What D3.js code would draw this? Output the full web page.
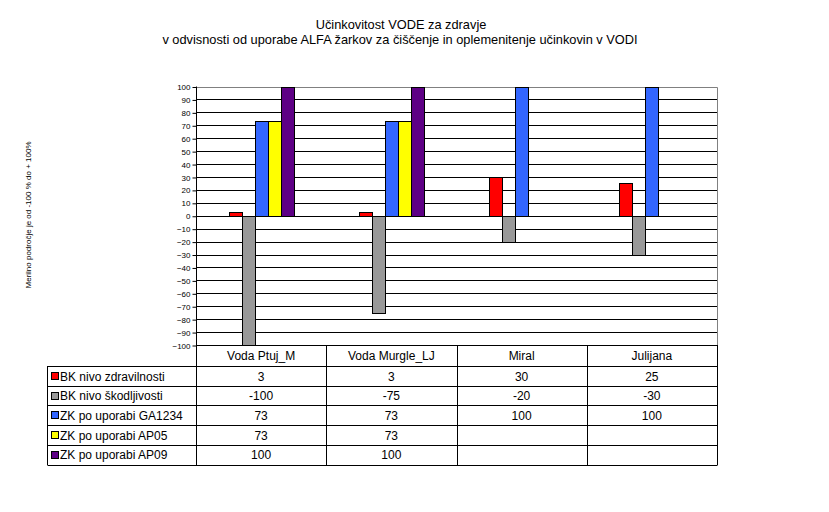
<!DOCTYPE html>
<html>
<head>
<meta charset="utf-8">
<script src="https://cdn.jsdelivr.net/npm/d3@7/dist/d3.min.js"></script>
<style>
    body { margin: 0; background: #fff; }
    text { font-family: "Liberation Sans", Arial, sans-serif; fill: #000; }
</style>
</head>
<body>
<div id="chart"></div>
<script>
'use strict';

// Data
const categories = ['Voda Ptuj_M', 'Voda Murgle_LJ', 'Miral', 'Julijana'];
const seriesNames = ['BK nivo zdravilnosti', 'BK nivo škodljivosti', 'ZK po uporabi GA1234', 'ZK po uporabi AP05', 'ZK po uporabi AP09'];
const seriesColors = ['#ff0000', '#999999', '#3366ff', '#ffff00', '#5e0085'];
const bkZdravilnost = [3, 3, 30, 25];
const bkSkodljivost = [-100, -75, -20, -30];
const zkGA1234 = [73, 73, 100, 100];
const zkAP05 = [73, 73, null, null];
const zkAP09 = [100, 100, null, null];
const yTicks = d3.range(-100, 101, 10);

const seriesValues = [bkZdravilnost, bkSkodljivost, zkGA1234, zkAP05, zkAP09];

// Config svg
const w = 829, h = 512;
const svg = d3.select('#chart').append('svg')
    .attr('width', w)
    .attr('height', h);

// Plot area
const plot = {left: 196, right: 717, top: 86.5, bottom: 345};

// Scales
const y = d3.scaleLinear().domain([-100, 100]).range([plot.bottom, plot.top]);
const x = d3.scaleBand().domain(categories).range([plot.left, plot.right]);
const xs = d3.scaleBand().domain(d3.range(seriesNames.length))
    .range([x.bandwidth() * 0.25, x.bandwidth() * 0.75]);

// Title
svg.append('text').attr('x', 401).attr('y', 29).attr('text-anchor', 'middle')
    .style('font-size', '12.8px').text('Učinkovitost VODE za zdravje');
svg.append('text').attr('x', 400).attr('y', 44).attr('text-anchor', 'middle')
    .style('font-size', '12.8px')
    .text('v odvisnosti od uporabe ALFA žarkov za čiščenje in oplemenitenje učinkovin v VODI');

// Y title
svg.append('text')
    .attr('transform', 'translate(31,215) rotate(-90)')
    .attr('text-anchor', 'middle')
    .style('font-size', '8px')
    .text('Merilno področje je od -100 % do + 100%');

// Grid lines
svg.append('g').selectAll('line')
    .data(yTicks.filter(d => d < 100))
    .join('line')
    .attr('x1', plot.left).attr('x2', plot.right)
    .attr('y1', d => Math.round(y(d)) + 0.5).attr('y2', d => Math.round(y(d)) + 0.5)
    .attr('stroke', '#000');

// Top & right border (gray)
svg.append('path')
    .attr('d', `M${plot.left},${Math.round(plot.top) + 0.5}H${plot.right + 0.5}V${plot.bottom}`)
    .attr('fill', 'none').attr('stroke', '#808080');

// Bars
const barsG = svg.append('g');
categories.forEach((c, ci) => {
    seriesValues.forEach((vals, si) => {
        const v = vals[ci];
        if (v === null) return;
        const x0 = Math.round(x(c) + xs(si)) + 0.5;
        const x1 = Math.round(x(c) + xs(si) + xs.bandwidth()) + 0.5;
        const y0 = Math.round(y(Math.max(0, v))) + 0.5;
        const y1 = Math.round(y(Math.min(0, v))) + 0.5;
        barsG.append('rect')
            .attr('x', x0).attr('y', y0)
            .attr('width', x1 - x0).attr('height', y1 - y0)
            .attr('fill', seriesColors[si])
            .attr('stroke', '#000');
    });
});

// Y axis
const yAxis = d3.axisLeft(y).tickValues(yTicks).tickSize(4).tickPadding(2);
const axisG = svg.append('g')
    .attr('transform', `translate(${plot.left + 0.5},0.5)`)
    .call(yAxis);
axisG.select('.domain').remove();
axisG.selectAll('.tick line').attr('stroke', '#000');
axisG.selectAll('.tick text')
    .style('font-size', '8px')
    .style('font-family', '"Liberation Sans", Arial, sans-serif');
svg.append('line')
    .attr('x1', plot.left + 0.5).attr('x2', plot.left + 0.5)
    .attr('y1', plot.top).attr('y2', plot.bottom)
    .attr('stroke', '#000');

// Data table
const table = {left: 47.5, headTop: 345, headBottom: 366, rowH: 19.7};
const tableBottom = table.headBottom + seriesNames.length * table.rowH;
const tG = svg.append('g');

// Horizontal lines
tG.append('line')
    .attr('x1', plot.left).attr('x2', plot.right + 0.5)
    .attr('y1', table.headTop + 0.5).attr('y2', table.headTop + 0.5)
    .attr('stroke', '#000');
d3.range(seriesNames.length + 1).forEach(i => {
    const yy = Math.round(table.headBottom + i * table.rowH) + 0.5;
    tG.append('line')
        .attr('x1', table.left).attr('x2', plot.right + 0.5)
        .attr('y1', yy).attr('y2', yy)
        .attr('stroke', '#000');
});

// Vertical lines
tG.append('line')
    .attr('x1', table.left).attr('x2', table.left)
    .attr('y1', table.headBottom).attr('y2', tableBottom + 0.5)
    .attr('stroke', '#000');
categories.concat(['end']).forEach((c, i) => {
    const xx = Math.round(plot.left + i * x.bandwidth()) + 0.5;
    tG.append('line')
        .attr('x1', xx).attr('x2', xx)
        .attr('y1', table.headTop).attr('y2', tableBottom + 0.5)
        .attr('stroke', '#000');
});

// Header
tG.selectAll('.head')
    .data(categories)
    .join('text')
    .attr('class', 'head')
    .attr('x', d => x(d) + x.bandwidth() / 2)
    .attr('y', table.headBottom - 6)
    .attr('text-anchor', 'middle')
    .style('font-size', '12px')
    .text(d => d);

// Rows
seriesNames.forEach((name, si) => {
    const rowTop = table.headBottom + si * table.rowH;
    tG.append('rect')
        .attr('x', 51.5).attr('y', Math.round(rowTop + 6) + 0.5)
        .attr('width', 7).attr('height', 7)
        .attr('fill', seriesColors[si]).attr('stroke', '#000');
    tG.append('text')
        .attr('x', 60).attr('y', rowTop + 14.5)
        .style('font-size', '12px')
        .text(name);
    categories.forEach((c, ci) => {
        const v = seriesValues[si][ci];
        if (v === null) return;
        tG.append('text')
            .attr('x', x(c) + x.bandwidth() / 2)
            .attr('y', rowTop + 14.5)
            .attr('text-anchor', 'middle')
            .style('font-size', '12px')
            .text(v);
    });
});
</script>
</body>
</html>
